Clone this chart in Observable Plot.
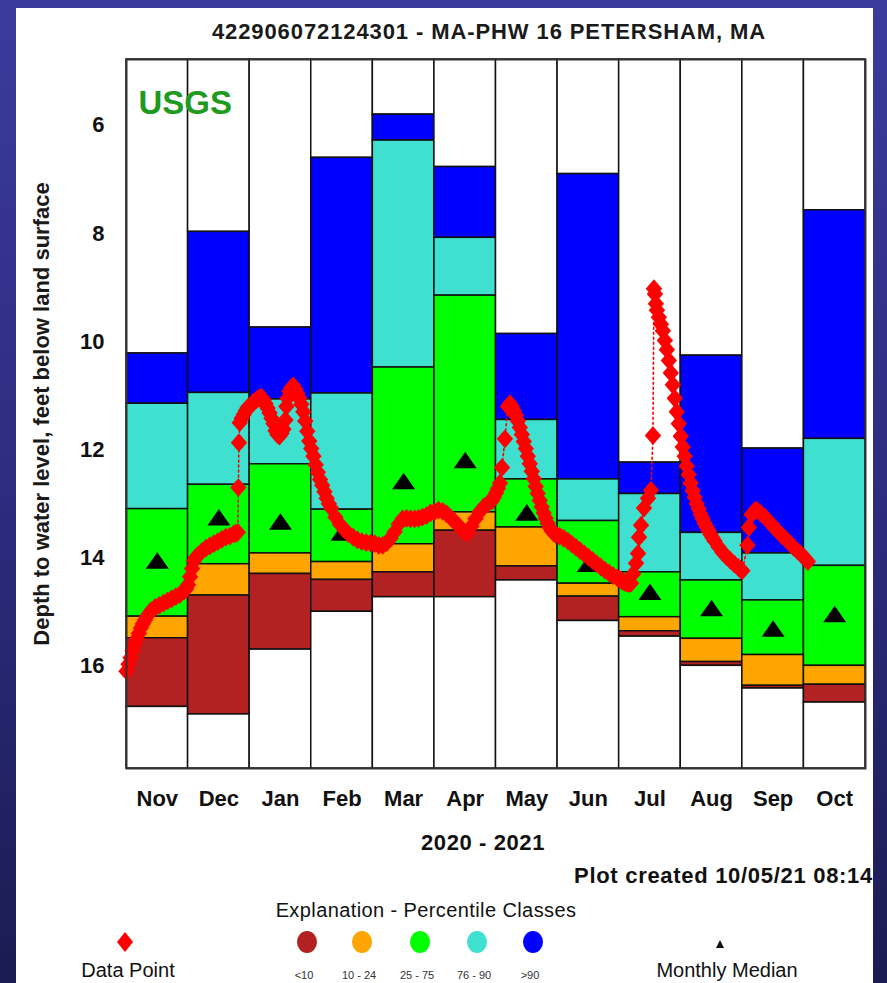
<!DOCTYPE html>
<html><head><meta charset="utf-8">
<script src="https://cdn.jsdelivr.net/npm/d3@7"></script>
<script src="https://cdn.jsdelivr.net/npm/@observablehq/plot@0.6"></script>
<style>
html,body{margin:0;padding:0;}
body{width:887px;height:983px;overflow:hidden;position:relative;background:linear-gradient(180deg,#3b3b9d 0%,#2c2c80 50%,#1b1b52 100%);font-family:"Liberation Sans",Arial,sans-serif;}
#panel{position:absolute;left:16px;top:8px;width:857px;height:980px;background:#fff;}
.t{position:absolute;white-space:nowrap;line-height:1;color:#111;}
.c{transform:translate(-50%,-50%);}
.b{font-weight:bold;}
#chart{position:absolute;left:16px;top:40px;}
#legend{position:absolute;left:0;top:0;}
</style></head><body>
<div id="panel"></div>
<div class="t c b" id="title" style="left:489px;top:32px;font-size:22px;letter-spacing:0.9px;color:#1a1a1a;">422906072124301 - MA-PHW 16 PETERSHAM, MA</div>
<div id="chart"></div>
<div class="t c b" id="years" style="left:483px;top:843px;font-size:22px;letter-spacing:0.6px;">2020 - 2021</div>
<div class="t b" id="created" style="right:14px;top:865px;font-size:22px;letter-spacing:0.7px;">Plot created 10/05/21 08:14</div>
<div class="t c" id="expl" style="left:426px;top:910px;font-size:20px;letter-spacing:0.4px;">Explanation - Percentile Classes</div>
<div id="legend"></div>
<script>
// ---- data ----
const months = ["Nov","Dec","Jan","Feb","Mar","Apr","May","Jun","Jul","Aug","Sep","Oct"];
const daysInMonth = [30,31,31,28,31,30,31,30,31,31,30,31];
const yTicks = [6,8,10,12,14,16];
// percentile class boundaries, depth in feet below land surface
const maxLevel = [10.22, 7.97, 9.74, 6.6, 5.8, 6.77, 9.86, 6.9, 12.24, 10.26, 11.98, 7.57];
const p90      = [11.15, 10.95, 11.07, 10.96, 6.28, 8.08, 11.45, 12.55, 12.82, 13.54, 13.92, 11.8];
const p75      = [13.1, 12.65, 12.27, 13.11, 10.48, 9.15, 12.55, 13.32, 14.27, 14.42, 14.79, 14.15];
const p25      = [15.09, 14.12, 13.92, 14.08, 13.75, 13.16, 13.44, 14.48, 15.1, 15.5, 15.8, 16.0];
const p10      = [15.49, 14.7, 14.3, 14.41, 14.27, 13.5, 14.16, 14.72, 15.36, 15.93, 16.37, 16.35];
const minLevel = [16.76, 16.9, 15.7, 15.0, 14.73, 14.73, 14.42, 15.17, 15.46, 16.0, 16.42, 16.68];
const medians  = [14.07, 13.27, 13.35, 13.55, 12.6, 12.21, 13.18, 14.13, 14.65, 14.95, 15.33, 15.06];
// water-level readings [day of month, depth]
const nov2020 = [[1,16.1],[2,15.97],[3,15.85],[4,15.72],[5,15.6],[6,15.5],[7,15.4],[8,15.3],[9,15.22],[10,15.15],[11,15.08],[13,14.98],[15,14.92],[17,14.88],[19,14.84],[21,14.8],[23,14.76],[25,14.72],[27,14.68],[29,14.62],[30,14.58]];
const dec2020 = [[1,14.5],[2,14.35],[3,14.2],[4,14.06],[5,13.99],[6,13.95],[8,13.88],[10,13.82],[12,13.78],[14,13.74],[16,13.7],[18,13.66],[20,13.62],[22,13.6],[24,13.56],[25,13.55],[26,13.53],[26.3,12.7],[26.6,11.87],[27,11.5],[28,11.42],[29,11.35],[30,11.28],[31,11.22]];
const jan2021 = [[1,11.2],[2,11.16],[3,11.12],[4,11.09],[5,11.06],[6,11.04],[7,11.03],[8,11.08],[9,11.15],[10,11.23],[11,11.32],[12,11.42],[13,11.52],[14,11.65],[15,11.72],[16,11.75],[17,11.7],[18,11.62],[19,11.45],[19.5,11.2],[20,11.05],[21,10.92],[22,10.85],[23,10.82],[24,10.88],[25,10.96],[26,11.05],[27,11.16],[28,11.3],[29,11.47],[30,11.66],[31,11.84]];
const feb2021 = [[1,11.98],[2,12.12],[3,12.28],[4,12.42],[5,12.55],[6,12.66],[7,12.78],[8,12.9],[9,13.0],[10,13.08],[12,13.25],[14,13.38],[16,13.48],[18,13.56],[20,13.62],[22,13.67],[24,13.7],[26,13.72],[28,13.73]];
const mar2021 = [[2,13.74],[4,13.77],[6,13.77],[8,13.72],[10,13.64],[12,13.52],[14,13.38],[16,13.28],[18,13.27],[20,13.28],[22,13.28],[24,13.27],[26,13.25],[28,13.22],[30,13.17]];
const apr2021 = [[1,13.15],[3,13.12],[5,13.14],[7,13.19],[9,13.26],[11,13.34],[13,13.42],[15,13.5],[17,13.55],[19,13.42],[21,13.28],[23,13.15],[25,13.06],[27,13.0],[29,12.95],[30,12.88]];
const may2021 = [[1,12.8],[2,12.72],[3,12.62],[4,12.33],[5.5,11.8],[7,11.2],[8,11.15],[9,11.2],[10,11.28],[11,11.37],[12,11.47],[13,11.59],[14,11.72],[15,11.85],[16,11.98],[17,12.12],[18,12.26],[19,12.4],[20,12.54],[21,12.68],[22,12.81],[23,12.94],[24,13.06],[25,13.17],[26,13.27],[27,13.36],[28,13.44],[29,13.5],[30,13.54],[31,13.57]];
const jun2021 = [[2,13.6],[4,13.64],[6,13.69],[8,13.75],[10,13.81],[12,13.87],[14,13.93],[16,13.99],[18,14.05],[20,14.11],[22,14.17],[24,14.23],[26,14.28],[28,14.33],[30,14.37]];
const jul2021 = [[1,14.39],[2,14.42],[3,14.44],[4,14.46],[5,14.47],[6,14.48],[7,14.47],[8,14.3],[9.5,14.1],[10.5,13.92],[11,13.62],[12,13.4],[13.5,13.08],[15.5,12.9],[17,12.75],[18,11.74],[18.5,9.02],[19,9.12],[19.5,9.3],[20,9.42],[21,9.55],[22,9.68],[23,9.8],[24,9.98],[25,10.15],[26,10.35],[27,10.58],[28,10.8],[29,11.05],[30,11.3],[31,11.52]];
const aug2021 = [[1,11.75],[2,11.95],[3,12.12],[4,12.3],[5,12.46],[6,12.62],[7,12.76],[8,12.88],[9,13.0],[10,13.1],[11,13.2],[12,13.28],[13,13.36],[14,13.43],[15,13.5],[16,13.57],[17,13.63],[18,13.69],[20,13.8],[22,13.9],[24,13.98],[26,14.05],[28,14.12],[30,14.18],[31,14.22]];
const sep2021 = [[1,14.24],[3.5,13.77],[4.2,13.44],[5.5,13.2],[7,13.13],[8,13.12],[10,13.18],[12,13.25],[14,13.33],[16,13.42],[18,13.5],[20,13.58],[22,13.65],[24,13.73],[26,13.81],[28,13.88],[30,13.95]];
const oct2021 = [[1,13.99],[2,14.03],[3,14.07]];

const classColors = ["#b22222", "#ffa500", "#00ff00", "#40e0d0", "#0000ff"];
const classLabels = ["<10", "10 - 24", "25 - 75", "76 - 90", ">90"];

// ---- derived tables ----
const yTop = 4.78, yBottom = 17.9;
const monthReadings = [nov2020, dec2020, jan2021, feb2021, mar2021, apr2021, may2021, jun2021, jul2021, aug2021, sep2021, oct2021];
const readings = monthReadings.flatMap((arr, i) => arr.map(([day, depth]) => ({pos: i + (day - 1) / daysInMonth[i], depth})));
const bands = months.flatMap((m, i) => {
  const edges = [yTop, maxLevel[i], p90[i], p75[i], p25[i], p10[i], minLevel[i], yBottom];
  const fills = ["#ffffff", classColors[4], classColors[3], classColors[2], classColors[1], classColors[0], "#ffffff"];
  return fills.map((f, k) => ({x1: i, x2: i + 1, y1: edges[k], y2: edges[k + 1], fill: f}));
});
const medianRows = medians.map((v, i) => ({pos: i + 0.5, depth: v}));

const diamondSym = {draw(ctx, size) { const r = Math.sqrt(size / Math.PI); const w = r * 1.05, h = r * 1.2; ctx.moveTo(0, -h); ctx.lineTo(w, 0); ctx.lineTo(0, h); ctx.lineTo(-w, 0); ctx.closePath(); }};
const triSym = {draw(ctx, size) { const r = Math.sqrt(size / Math.PI); ctx.moveTo(0, -r * 1.1); ctx.lineTo(r * 1.35, r * 0.85); ctx.lineTo(-r * 1.35, r * 0.85); ctx.closePath(); }};

const chart = Plot.plot({
  width: 857, height: 779,
  marginLeft: 110, marginRight: 8, marginTop: 19, marginBottom: 51,
  x: {domain: [0, 12]},
  y: {domain: [yTop, yBottom], reverse: true},
  color: {type: "identity"},
  style: {fontFamily: "'Liberation Sans', Arial, sans-serif", background: "transparent", color: "#111"},
  marks: [
    Plot.rect(bands, {x1: "x1", x2: "x2", y1: "y1", y2: "y2", fill: "fill", stroke: "#111", strokeWidth: 1.5}),
    Plot.dot(medianRows, {x: "pos", y: "depth", symbol: triSym, r: 8.5, fill: "black", stroke: "none"}),
    Plot.line(readings, {x: "pos", y: "depth", stroke: "red", strokeWidth: 1.6, strokeDasharray: "2,3"}),
    Plot.dot(readings, {x: "pos", y: "depth", symbol: diamondSym, r: 7.8, fill: "red", stroke: "none"}),
    Plot.frame({stroke: "#333", strokeWidth: 2}),
    Plot.axisX({ticks: months.map((m, i) => i + 0.5), tickFormat: v => months[Math.floor(v)], tickSize: 0, tickPadding: 22, fontSize: 22, fontWeight: "bold", label: null, fill: "#111"}),
    Plot.axisY({ticks: yTicks, tickSize: 0, tickPadding: 22, fontSize: 22, fontWeight: "bold", label: null, fill: "#111"}),
    Plot.text(["Depth to water level, feet below land surface"], {text: d => d, frameAnchor: "left", dx: -85, rotate: -90, textAnchor: "middle", fontSize: 22, fontWeight: "bold", fill: "#1a1a1a"}),
    Plot.text(["USGS"], {text: d => d, frameAnchor: "top-left", dx: 12, dy: 31, textAnchor: "start", fontSize: 33, fontWeight: "bold", fill: "#1e9a1e"})
  ]
});
document.getElementById("chart").appendChild(chart);

// ---- legend ----
const lg = document.getElementById("legend");
const cx = [307, 362, 420, 477, 533];
let html = `<svg width="887" height="983" style="position:absolute;left:0;top:0;overflow:visible">`;
html += `<polygon points="125,932 133,942 125,952 117,942" fill="red"/>`;
classColors.forEach((c, i) => { html += `<ellipse cx="${cx[i]}" cy="942" rx="10" ry="11" fill="${c}"/>`; });
html += `<polygon points="720,940 724,948 716,948" fill="#111"/>`;
html += `</svg>`;
html += `<div class="t c" style="left:128px;top:970px;font-size:20px;">Data Point</div>`;
html += `<div class="t c" style="left:727px;top:970px;font-size:20px;">Monthly Median</div>`;
classLabels.forEach((l, i) => { html += `<div class="t c" style="left:${cx[i] - 3}px;top:975px;font-size:11px;color:#333;">${l.replace("<","&lt;").replace(">","&gt;")}</div>`; });
lg.innerHTML = html;
</script>
</body></html>
